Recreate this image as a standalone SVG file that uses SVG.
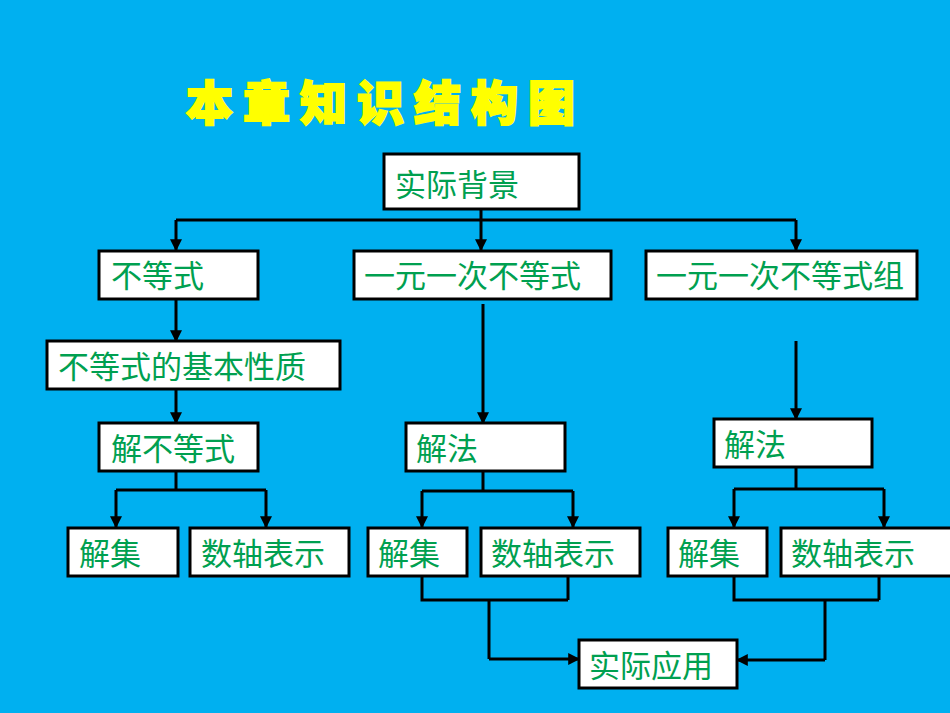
<svg xmlns="http://www.w3.org/2000/svg" width="950" height="713" viewBox="0 0 950 713">
<defs>
<marker id="a" viewBox="0 0 10 10" refX="9" refY="5" markerWidth="4" markerHeight="4" orient="auto" markerUnits="strokeWidth"><path d="M0,0L10,5L0,10z" fill="#000"/></marker>
<style>
.b{fill:#fff;stroke:#000;stroke-width:3}
.t{fill:#00A050;font-family:"Noto Sans CJK SC",sans-serif;font-size:31px}
.c{fill:none;stroke:#000;stroke-width:3}
.ar{marker-end:url(#a)}
</style>
</defs>
<rect width="950" height="713" fill="#00B0F0"/>
<text x="186" y="120" font-family="Noto Sans CJK SC,sans-serif" font-weight="900" font-size="47" fill="#FFFF00" stroke="#FFFF00" stroke-width="2" letter-spacing="10">本章知识结构图</text>
<g id="connectors">
<path class="c ar" d="M481,209V250"/>
<path class="c" d="M176,220H796"/>
<path class="c ar" d="M176,220V250"/>
<path class="c ar" d="M796,220V250"/>
<path class="c ar" d="M176,299V341"/>
<path class="c ar" d="M176,389V423"/>
<path class="c" d="M176,471V490M116,490H266"/>
<path class="c ar" d="M116,490V527"/>
<path class="c ar" d="M266,490V527"/>
<path class="c ar" d="M483,304V423"/>
<path class="c" d="M483,471V491M422,491H573"/>
<path class="c ar" d="M422,491V527"/>
<path class="c ar" d="M573,491V527"/>
<path class="c ar" d="M796,341V419"/>
<path class="c" d="M796,467V489M734,489H884"/>
<path class="c ar" d="M734,489V527"/>
<path class="c ar" d="M884,489V527"/>
<path class="c" d="M422,576V600H568M568,576V600M489,600V659"/>
<path class="c ar" d="M489,659H579"/>
<path class="c" d="M734,576V600H879M879,576V600M825,600V660"/>
<path class="c ar" d="M825,660H737"/>
</g>
<g id="n1"><rect class="b" x="384" y="154" width="195" height="55"/><text class="t" x="395" y="196" font-size="36">实际背景</text></g>
<g id="n2"><rect class="b" x="99" y="251" width="159" height="48"/><text class="t" x="111" y="287">不等式</text></g>
<g id="n3"><rect class="b" x="354" y="251" width="257" height="48"/><text class="t" x="364" y="287">一元一次不等式</text></g>
<g id="n4"><rect class="b" x="646" y="251" width="271" height="48"/><text class="t" x="656" y="287">一元一次不等式组</text></g>
<g id="n5"><rect class="b" x="47" y="341" width="293" height="48"/><text class="t" x="58" y="378">不等式的基本性质</text></g>
<g id="n6"><rect class="b" x="99" y="423" width="159" height="48"/><text class="t" x="111" y="460">解不等式</text></g>
<g id="n7"><rect class="b" x="406" y="423" width="159" height="48"/><text class="t" x="416" y="460">解法</text></g>
<g id="n8"><rect class="b" x="714" y="419" width="158" height="48"/><text class="t" x="724" y="456">解法</text></g>
<g id="n9"><rect class="b" x="68" y="528" width="110" height="48"/><text class="t" x="79" y="565">解集</text></g>
<g id="n10"><rect class="b" x="190" y="528" width="159" height="48"/><text class="t" x="201" y="565">数轴表示</text></g>
<g id="n11"><rect class="b" x="368" y="528" width="99" height="48"/><text class="t" x="378" y="565">解集</text></g>
<g id="n12"><rect class="b" x="481" y="528" width="159" height="48"/><text class="t" x="491" y="565">数轴表示</text></g>
<g id="n13"><rect class="b" x="668" y="528" width="99" height="48"/><text class="t" x="678" y="565">解集</text></g>
<g id="n14"><rect class="b" x="781" y="528" width="175" height="48"/><text class="t" x="791" y="565">数轴表示</text></g>
<g id="n15"><rect class="b" x="579" y="640" width="158" height="48"/><text class="t" x="589" y="677">实际应用</text></g>
</svg>
